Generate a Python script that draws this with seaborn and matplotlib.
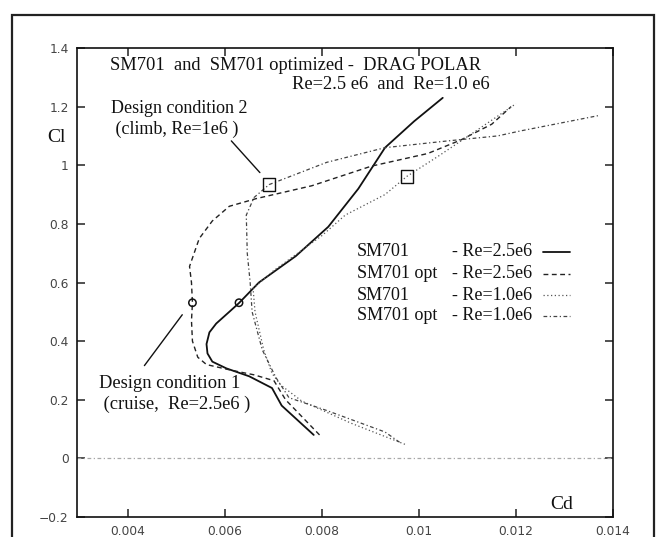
import matplotlib
matplotlib.use("Agg")
import matplotlib.pyplot as plt
from matplotlib.lines import Line2D
from matplotlib.patches import Rectangle
import seaborn as sns

# ---------------- data ----------------
cd_sm701_25 = [0.00783, 0.00717, 0.00697, 0.00650, 0.00603, 0.00574, 0.00564, 0.00562,
               0.00568, 0.00582, 0.00609, 0.00629, 0.00670, 0.00746, 0.00813, 0.00875,
               0.00930, 0.00990, 0.01049]
cl_sm701_25 = [0.08, 0.18, 0.24, 0.28, 0.307, 0.33, 0.358, 0.39,
               0.43, 0.46, 0.50, 0.53, 0.60, 0.69, 0.79, 0.92,
               1.06, 1.15, 1.23]

cd_opt_25 = [0.00795, 0.00725, 0.00701, 0.00660, 0.00615, 0.00562, 0.00544, 0.00533,
             0.00531, 0.00533, 0.00531, 0.00527, 0.00547, 0.00574, 0.00609, 0.00664,
             0.00779, 0.00902, 0.01018, 0.01086, 0.01150, 0.01190]
cl_opt_25 = [0.08, 0.20, 0.265, 0.285, 0.30, 0.32, 0.345, 0.40,
             0.47, 0.53, 0.60, 0.655, 0.75, 0.81, 0.86, 0.886,
             0.93, 0.997, 1.04, 1.086, 1.14, 1.20]

cd_sm701_10 = [0.00971, 0.00860, 0.00758, 0.00715, 0.00697, 0.00680, 0.00662, 0.00658,
               0.00700, 0.00750, 0.00800, 0.00848, 0.00930, 0.00975, 0.01039, 0.01120,
               0.01200]
cl_sm701_10 = [0.048, 0.12, 0.196, 0.25, 0.29, 0.37, 0.50, 0.58,
               0.64, 0.70, 0.76, 0.83, 0.90, 0.962, 1.03, 1.12,
               1.21]

cd_opt_10 = [0.00960, 0.00930, 0.00807, 0.00732, 0.00705, 0.00677, 0.00656, 0.00652,
             0.00646, 0.00644, 0.00660, 0.00691, 0.00810, 0.00930, 0.01059, 0.01162,
             0.01209, 0.01372]
cl_opt_10 = [0.055, 0.09, 0.165, 0.207, 0.276, 0.37, 0.50, 0.60,
             0.70, 0.83, 0.89, 0.934, 1.01, 1.06, 1.083, 1.10,
             1.117, 1.17]

design_sq_cd = [0.00691, 0.00975]
design_sq_cl = [0.934, 0.962]
design_ci_cd = [0.00533, 0.00629]
design_ci_cl = [0.531, 0.531]

xticks = [0.004, 0.006, 0.008, 0.010, 0.012, 0.014]
xtick_labels = ["0.004", "0.006", "0.008", "0.01", "0.012", "0.014"]
yticks = [-0.2, 0, 0.2, 0.4, 0.6, 0.8, 1.0, 1.2, 1.4]
ytick_labels = ["\u22120.2", "0", "0.2", "0.4", "0.6", "0.8", "1", "1.2", "1.4"]

legend_names = ["SM701", "SM701 opt", "SM701", "SM701 opt"]
legend_re = ["- Re=2.5e6", "- Re=2.5e6", "- Re=1.0e6", "- Re=1.0e6"]

# ---------------- style ----------------
sns.set_theme(style="white")
plt.rcParams["font.family"] = ["DejaVu Sans"]
SERIF = ["Liberation Serif", "DejaVu Serif"]

W, H = 658, 537
fig = plt.figure(figsize=(W / 100, H / 100), dpi=100)
fig.patch.set_facecolor("white")
ax = fig.add_axes([77 / W, 1 - 517 / H, (613 - 77) / W, (517 - 48) / H])
ax.set_facecolor("white")

styles = [
    dict(color="#111111", lw=1.3, linestyle="-"),
    dict(color="#222222", lw=1.0, linestyle=(0, (3.5, 2.5))),
    dict(color="#555555", lw=0.9, linestyle=(0, (1, 2))),
    dict(color="#444444", lw=0.9, linestyle=(0, (3, 2, 1, 2))),
]
series = [(cd_sm701_25, cl_sm701_25), (cd_opt_25, cl_opt_25),
          (cd_sm701_10, cl_sm701_10), (cd_opt_10, cl_opt_10)]

# zero line
ax.axhline(0, color="#a8a8a8", lw=0.9, linestyle=(0, (3, 2, 1, 2)), zorder=1)

for (x, y), st in zip(series, styles):
    sns.lineplot(x=x, y=y, sort=False, estimator=None, ax=ax, **st)

sns.scatterplot(x=design_sq_cd, y=design_sq_cl, marker="s", s=80, ax=ax,
                facecolor="none", edgecolor="#111111", linewidth=1.0, zorder=5)
sns.scatterplot(x=design_ci_cd, y=design_ci_cl, marker="o", s=28, ax=ax,
                facecolor="none", edgecolor="#111111", linewidth=1.1, zorder=5)

ax.set_xlim(0.00295, 0.014)
ax.set_ylim(-0.2, 1.4)
ax.set_xticks(xticks)
ax.set_xticklabels(xtick_labels)
ax.set_yticks(yticks)
ax.set_yticklabels(ytick_labels)
ax.tick_params(direction="in", length=6, width=1.1, colors="#222222",
               top=True, right=True, bottom=True, left=True,
               labelsize=8.8, labelcolor="#444444", pad=6)
ax.set_xlabel("")
ax.set_ylabel("")
for sp in ax.spines.values():
    sp.set_visible(True)
    sp.set_color("#111111")
    sp.set_linewidth(1.2)

# axis labels as text
ax.text(0.0127, -0.159, "Cd", family=SERIF, fontsize=14, color="#111111",
        va="center", ha="left")
fig.text(47 / W, 1 - 137 / H, "Cl", family=SERIF, fontsize=14, color="#111111",
         va="center", ha="left")

# title
fig.text(110 / W, 1 - 66 / H, "SM701  and  SM701 optimized -  DRAG POLAR",
         family=SERIF, fontsize=13.3, color="#111111", va="center", ha="left")
fig.text(490 / W, 1 - 84 / H, "Re=2.5 e6  and  Re=1.0 e6",
         family=SERIF, fontsize=13.3, color="#111111", va="center", ha="right")

# design conditions
ax.annotate("Design condition 2\n (climb, Re=1e6 )", xy=(0.00672, 0.975),
            xytext=(111 / W, 1 - 100 / H), textcoords="figure fraction",
            family=SERIF, fontsize=13, color="#111111", va="top", ha="left",
            linespacing=1.25,
            arrowprops=dict(arrowstyle="-", color="#111111", lw=1.0,
                            shrinkA=0, shrinkB=0, relpos=(0.86, 0.0)))
ax.annotate("Design condition 1\n (cruise,  Re=2.5e6 )", xy=(0.00512, 0.49),
            xytext=(99 / W, 1 - 375 / H), textcoords="figure fraction",
            family=SERIF, fontsize=13.3, color="#111111", va="top", ha="left",
            linespacing=1.25,
            arrowprops=dict(arrowstyle="-", color="#111111", lw=1.0,
                            shrinkA=0, shrinkB=0, relpos=(0.3, 1.25)))

# legend (manual, in figure pixels)
rows_y = [252, 274, 295, 316]
for name, re_, st, yy in zip(legend_names, legend_re, styles, rows_y):
    fy = 1 - yy / H
    fig.text(357 / W, fy, name, family=SERIF, fontsize=13, color="#111111",
             va="center", ha="left")
    fig.text(532 / W, fy, re_, family=SERIF, fontsize=13, color="#111111",
             va="center", ha="right")
    fig.add_artist(Line2D([543 / W, 570 / W], [fy, fy], transform=fig.transFigure,
                          color=st["color"], lw=st["lw"], linestyle=st["linestyle"]))

# outer frame of the scanned figure
fig.add_artist(Rectangle((12 / W, -0.05), (654 - 12) / W, 1 - 15 / H + 0.05,
                         transform=fig.transFigure, fill=False,
                         edgecolor="#222222", lw=1.6))

fig.savefig("out.png", dpi=100, facecolor="white")
